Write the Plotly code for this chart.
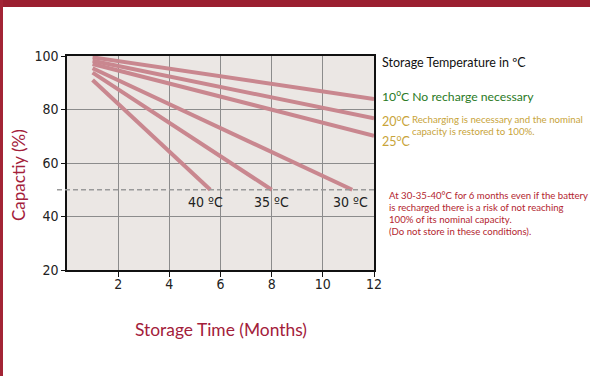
import plotly.graph_objects as go

temps = ["10 ºC", "20 ºC", "25 ºC", "30 ºC", "35 ºC", "40 ºC"]
start_month = [1, 1, 1, 1, 1, 1]
start_capacity = [99.5, 98.2, 97.0, 95.4, 93.8, 91.0]
end_month = [12, 12, 12, 11.15, 8.0, 5.6]
end_capacity = [83.9, 76.7, 70.2, 50, 50, 50]
x_ticks = [2, 4, 6, 8, 10, 12]
y_ticks = [20, 40, 60, 80, 100]
threshold = 50
curve_labels = ["40 ºC", "35 ºC", "30 ºC"]
curve_label_x = [5.4, 8.0, 11.1]

W, H = 590, 376
L, R, T, B = 67, 216, 56, 106
pw, ph = W - L - R, H - T - B

def px(x):
    return (x - L) / pw

def py(y):
    return (H - B - y) / ph

LINE = "#c9878f"
RED = "#a3203a"
TICKFONT = "Liberation Sans Narrow, DejaVu Sans Condensed, Arial Narrow, sans-serif"
TXTFONT = "Lato, Carlito, Calibri, Open Sans, sans-serif"

fig = go.Figure()
for i, t in enumerate(temps):
    fig.add_trace(go.Scatter(
        x=[start_month[i], end_month[i]], y=[start_capacity[i], end_capacity[i]],
        mode="lines", line=dict(color=LINE, width=4), name=t, showlegend=False,
        hoverinfo="skip"))

shapes = [
    dict(type="line", xref="paper", yref="y", x0=px(57), x1=1, y0=threshold, y1=threshold,
         line=dict(color="#9a9a9a", width=1.3, dash="5px,3px"), layer="above"),
    dict(type="rect", xref="paper", yref="paper", x0=px(-5), x1=px(W + 5), y0=py(7), y1=py(-5),
         fillcolor="#9b1f30", line=dict(width=0), layer="above"),
    dict(type="rect", xref="paper", yref="paper", x0=px(-5), x1=px(3), y0=py(H + 5), y1=py(0),
         fillcolor="#a32435", line=dict(width=0), layer="above"),
]

def note_ann(x, y, text, size, color, xanchor="left", angle=0):
    return dict(x=px(x), y=py(y), xref="paper", yref="paper", xanchor=xanchor,
                yanchor="middle", text=text, showarrow=False, textangle=angle,
                font=dict(family=TXTFONT, size=size, color=color))

ann = []
for lbl, lx in zip(curve_labels, curve_label_x):
    ann.append(dict(x=lx, y=threshold, xref="x", yref="y", text=lbl, showarrow=False,
                    xanchor="center", yanchor="middle",
                    yshift=-12, font=dict(family=TICKFONT, size=14, color="#222")))

YEL = "#c8a43a"
ann += [
    note_ann(18, 175, "Capactiy (%)", 17, RED, xanchor="center", angle=-90),
    note_ann(221, 329, "Storage Time (Months)", 17.4, RED, xanchor="center"),
    note_ann(380, 62, "Storage Temperature in ºC", 12.5, "#111"),
    note_ann(380, 96, "10<sup>o</sup>C No recharge necessary", 12.2, "#2a7a25"),
    note_ann(380, 120, "20<sup>o</sup>C", 12.5, YEL),
    note_ann(380, 140, "25<sup>o</sup>C", 12.5, YEL),
    note_ann(410, 119, "Recharging is necessary and the nominal", 9.7, YEL),
    note_ann(410, 131, "capacity is restored to 100%.", 9.7, YEL),
]
note = ["At 30-35-40°C for 6 months even if the battery",
        "is recharged there is a risk of not reaching",
        "100% of its nominal capacity.",
        "(Do not store in these conditions)."]
for k, line in enumerate(note):
    ann.append(note_ann(387, 195 + 12.3 * k, line, 9.6, "#b3262f"))

fig.update_layout(
    width=W, height=H, margin=dict(l=L, r=R, t=T, b=B, pad=0),
    paper_bgcolor="white", plot_bgcolor="#ebe7e4",
    shapes=shapes, annotations=ann, showlegend=False,
    xaxis=dict(range=[0, 12], tickvals=x_ticks, showgrid=True, gridcolor="#8c8c8c", gridwidth=1,
               zeroline=False, showline=True, linecolor="#111", linewidth=1.5, mirror=True,
               ticks="outside", ticklen=5, tickcolor="#111", ticklabelstandoff=-5,
               tickfont=dict(family=TICKFONT, size=14, color="#222")),
    yaxis=dict(range=[20, 100], tickvals=y_ticks, showgrid=True, gridcolor="#8c8c8c", gridwidth=1,
               zeroline=False, showline=True, linecolor="#111", linewidth=1.5, mirror=True,
               ticks="outside", ticklen=4, tickcolor="#111",
               tickfont=dict(family=TICKFONT, size=14, color="#222")),
)
fig.write_html("out.html", config={"displayModeBar": False},
               post_script="document.body.style.margin='0';document.documentElement.style.margin='0';")
